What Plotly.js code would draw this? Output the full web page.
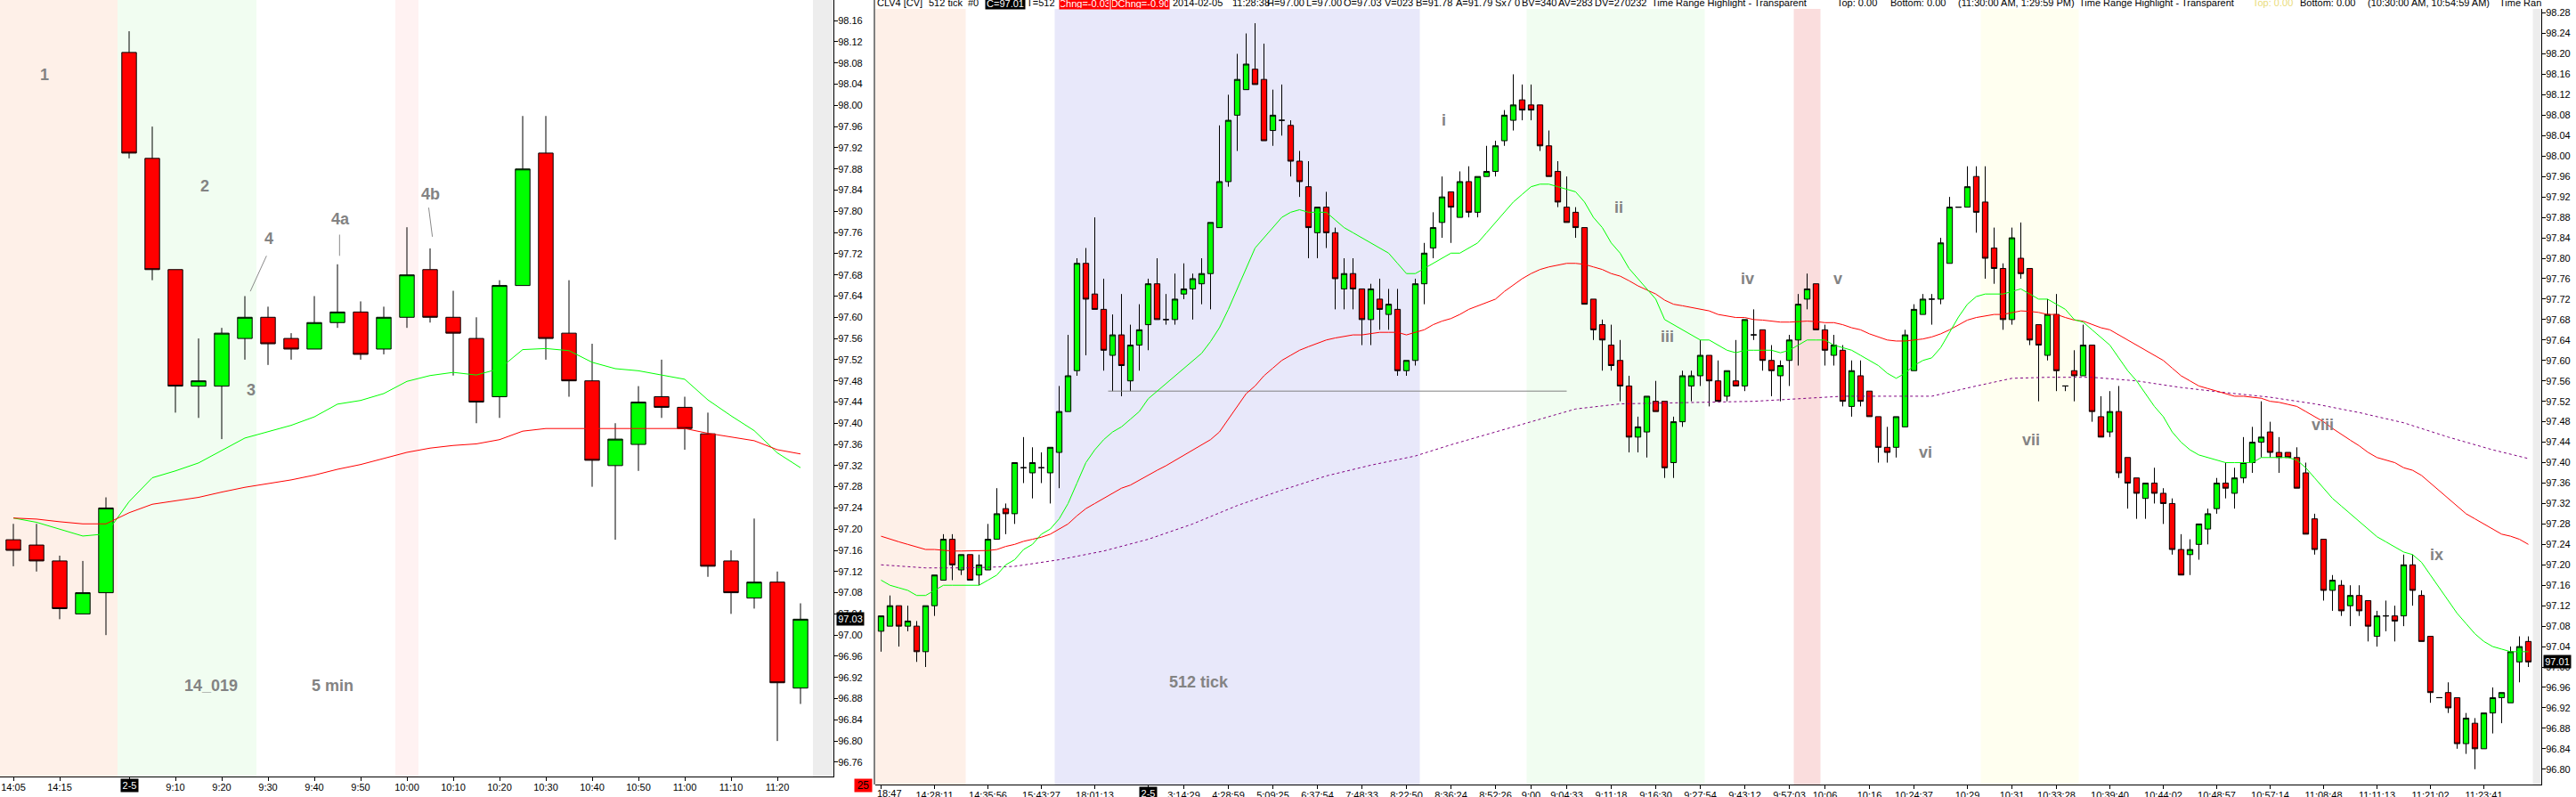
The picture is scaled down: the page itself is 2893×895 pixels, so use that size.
<!DOCTYPE html>
<html><head><meta charset="utf-8">
<script src="https://cdn.plot.ly/plotly-3.0.1.min.js"></script>
<style>html,body{margin:0;padding:0;background:#fff;overflow:hidden}#chart{width:2893px;height:895px}</style>
</head><body><div id="chart"></div>
<script>
// ---------------- LEFT PANEL: 5 min bars ----------------
const leftTickIndex  = [0, 2, 5, 7, 9, 11, 13, 15, 17, 19, 21, 23, 25, 27, 29, 31, 33];
const leftTickLabels = ["14:05","14:15","2-5","9:10","9:20","9:30","9:40","9:50","10:00","10:10","10:20","10:30","10:40","10:50","11:00","11:10","11:20"];
const leftOpen  = [97.18,97.17,97.14,97.04,97.08,98.10,97.90,97.69,97.47,97.47,97.56,97.60,97.56,97.54,97.59,97.61,97.54,97.60,97.69,97.60,97.56,97.45,97.66,97.91,97.57,97.48,97.32,97.36,97.45,97.43,97.38,97.14,97.07,97.10,96.90];
const leftHigh  = [97.21,97.21,97.15,97.14,97.26,98.14,97.96,97.69,97.56,97.58,97.64,97.62,97.57,97.64,97.70,97.63,97.62,97.77,97.73,97.65,97.60,97.67,97.98,97.98,97.67,97.55,97.40,97.47,97.52,97.45,97.42,97.16,97.22,97.12,97.06];
const leftLow   = [97.13,97.12,97.03,97.04,97.00,97.90,97.67,97.42,97.41,97.37,97.52,97.51,97.52,97.54,97.58,97.52,97.53,97.58,97.59,97.49,97.40,97.41,97.66,97.52,97.45,97.28,97.18,97.31,97.41,97.35,97.11,97.04,97.05,96.80,96.87];
const leftClose = [97.16,97.14,97.05,97.08,97.24,97.91,97.69,97.47,97.48,97.57,97.60,97.55,97.54,97.59,97.61,97.53,97.60,97.68,97.60,97.57,97.44,97.66,97.88,97.56,97.48,97.33,97.37,97.44,97.43,97.39,97.13,97.08,97.10,96.91,97.03];
const leftEmaFast = [97.221,97.213,97.200,97.187,97.191,97.252,97.297,97.310,97.325,97.348,97.372,97.384,97.396,97.412,97.436,97.443,97.456,97.479,97.490,97.496,97.491,97.503,97.539,97.541,97.537,97.515,97.503,97.499,97.491,97.483,97.444,97.414,97.386,97.344,97.316];
const leftEmaSlow = [97.221,97.219,97.214,97.210,97.210,97.231,97.247,97.254,97.260,97.270,97.279,97.286,97.293,97.302,97.313,97.322,97.333,97.345,97.353,97.358,97.361,97.369,97.385,97.390,97.390,97.390,97.390,97.390,97.390,97.390,97.381,97.374,97.367,97.350,97.342];

// ---------------- RIGHT PANEL: 512 tick bars ----------------
const rightTickIndex  = [0,6,12,18,24,30,34,39,44,49,54,59,64,69,73,77,82,87,92,97,102,106,111,116,122,127,132,138,144,150,156,162,168,174,180];
const rightTickLabels = ["18:47","14:28:11","14:35:56","15:43:27","18:01:13","2-5","3:14:29","4:28:59","5:09:25","6:37:54","7:48:33","8:22:50","8:36:24","8:52:26","9:00","9:04:33","9:11:18","9:16:30","9:27:54","9:43:12","9:57:03","10:06","10:16","10:24:37","10:29","10:31","10:33:28","10:39:40","10:44:02","10:48:57","10:57:14","11:08:48","11:11:13","11:21:02","11:23:41"];
const rightOpen = [
97.07,97.08,97.12,97.08,97.08,97.03,97.12,97.17,97.25,97.19,
97.22,97.18,97.19,97.25,97.31,97.30,97.39,97.38,97.39,97.38,
97.42,97.50,97.58,97.79,97.73,97.70,97.61,97.65,97.56,97.63,
97.67,97.75,97.68,97.68,97.73,97.74,97.75,97.77,97.86,97.95,
98.08,98.13,98.17,98.15,98.05,98.07,98.06,97.99,97.94,97.85,
97.90,97.85,97.74,97.77,97.74,97.68,97.72,97.69,97.70,97.58,
97.60,97.75,97.82,97.87,97.93,97.88,97.95,97.89,97.96,97.97,
98.03,98.07,98.11,98.10,98.10,98.02,97.97,97.90,97.89,97.86,
97.72,97.67,97.63,97.60,97.55,97.45,97.46,97.52,97.52,97.40,
97.48,97.55,97.57,97.61,97.56,97.53,97.56,97.55,97.65,97.66,
97.60,97.57,97.60,97.64,97.72,97.75,97.66,97.61,97.62,97.51,
97.57,97.54,97.49,97.43,97.43,97.47,97.58,97.69,97.72,97.72,
97.79,97.90,97.90,97.96,97.91,97.82,97.78,97.68,97.80,97.78,
97.67,97.61,97.69,97.55,97.58,97.57,97.63,97.49,97.46,97.50,
97.41,97.37,97.33,97.36,97.34,97.32,97.23,97.22,97.24,97.27,
97.31,97.36,97.34,97.37,97.40,97.44,97.46,97.42,97.42,97.41,
97.38,97.29,97.25,97.15,97.16,97.12,97.14,97.13,97.06,97.10,
97.10,97.10,97.20,97.14,97.06,96.94,96.95,96.94,96.85,96.89,
96.84,96.91,96.94,96.93,97.01,97.05];
const rightHigh = [
97.10,97.14,97.12,97.12,97.09,97.12,97.18,97.26,97.26,97.22,
97.22,97.22,97.28,97.35,97.32,97.40,97.45,97.43,97.42,97.43,
97.55,97.65,97.80,97.82,97.88,97.76,97.69,97.73,97.67,97.71,
97.76,97.80,97.73,97.77,97.79,97.77,97.80,97.87,98.06,98.12,
98.20,98.24,98.26,98.22,98.13,98.14,98.07,98.01,97.99,97.90,
97.93,97.86,97.80,97.80,97.74,97.75,97.76,97.74,97.74,97.60,
97.76,97.83,97.89,97.96,97.93,97.97,97.98,97.96,98.02,98.03,
98.09,98.16,98.14,98.14,98.10,98.05,97.99,97.96,97.90,97.86,
97.72,97.68,97.67,97.64,97.57,97.49,97.53,97.56,97.52,97.49,
97.58,97.58,97.64,97.61,97.60,97.58,97.64,97.68,97.70,97.66,
97.63,97.60,97.65,97.73,97.77,97.75,97.67,97.65,97.63,97.60,
97.60,97.54,97.49,97.47,97.49,97.66,97.71,97.73,97.73,97.84,
97.92,97.90,97.98,97.98,97.98,97.86,97.79,97.86,97.87,97.78,
97.67,97.72,97.73,97.55,97.62,97.67,97.63,97.53,97.54,97.55,
97.41,97.37,97.36,97.39,97.35,97.33,97.26,97.25,97.28,97.31,
97.37,97.40,97.39,97.45,97.47,97.52,97.48,97.45,97.42,97.43,
97.40,97.30,97.25,97.18,97.17,97.16,97.16,97.13,97.11,97.13,
97.12,97.22,97.22,97.15,97.06,96.94,96.97,96.94,96.91,96.90,
96.91,96.96,96.95,97.04,97.06,97.06];
const rightLow = [
97.03,97.08,97.04,97.07,97.01,97.00,97.10,97.17,97.17,97.18,
97.17,97.16,97.19,97.25,97.26,97.28,97.36,97.33,97.36,97.32,
97.35,97.50,97.57,97.61,97.70,97.58,97.54,97.53,97.54,97.58,
97.62,97.68,97.67,97.67,97.72,97.68,97.71,97.70,97.86,97.94,
98.01,98.13,98.14,98.03,98.02,98.04,97.96,97.92,97.80,97.80,
97.82,97.70,97.70,97.70,97.63,97.63,97.66,97.66,97.57,97.57,
97.59,97.71,97.80,97.84,97.83,97.88,97.88,97.88,97.96,97.96,
98.02,98.05,98.07,98.07,98.01,97.96,97.90,97.87,97.84,97.71,
97.64,97.58,97.58,97.52,97.42,97.42,97.41,97.50,97.37,97.37,
97.47,97.52,97.55,97.51,97.52,97.52,97.55,97.54,97.64,97.58,
97.53,97.52,97.55,97.59,97.70,97.66,97.59,97.59,97.51,97.49,
97.51,97.49,97.40,97.40,97.41,97.47,97.58,97.69,97.67,97.71,
97.79,97.90,97.90,97.85,97.76,97.75,97.66,97.67,97.76,97.63,
97.52,97.60,97.54,97.54,97.52,97.57,97.48,97.45,97.45,97.37,
97.31,97.29,97.29,97.32,97.28,97.22,97.18,97.18,97.21,97.24,
97.30,97.33,97.31,97.36,97.38,97.41,97.41,97.38,97.41,97.35,
97.26,97.22,97.13,97.11,97.10,97.08,97.10,97.05,97.04,97.07,
97.05,97.08,97.12,97.05,96.93,96.94,96.91,96.84,96.83,96.80,
96.84,96.87,96.89,96.93,96.97,97.00];
const rightClose = [
97.10,97.12,97.08,97.09,97.03,97.12,97.18,97.25,97.20,97.22,
97.17,97.20,97.25,97.30,97.30,97.40,97.39,97.40,97.39,97.43,
97.50,97.57,97.79,97.72,97.70,97.62,97.65,97.59,97.63,97.66,
97.75,97.68,97.68,97.72,97.74,97.76,97.77,97.87,97.95,98.07,
98.15,98.18,98.14,98.03,98.08,98.07,97.99,97.95,97.86,97.90,
97.85,97.76,97.77,97.74,97.68,97.74,97.70,97.71,97.58,97.60,
97.75,97.81,97.86,97.92,97.90,97.95,97.89,97.96,97.97,98.02,
98.08,98.10,98.09,98.09,98.02,97.96,97.91,97.87,97.86,97.71,
97.66,97.64,97.59,97.55,97.45,97.47,97.53,97.50,97.39,97.48,
97.57,97.57,97.61,97.56,97.52,97.58,97.55,97.68,97.65,97.60,
97.58,97.59,97.64,97.71,97.74,97.66,97.62,97.63,97.52,97.58,
97.52,97.49,97.43,97.42,97.49,97.65,97.70,97.72,97.72,97.83,
97.90,97.90,97.94,97.89,97.80,97.78,97.68,97.84,97.77,97.64,
97.63,97.69,97.58,97.55,97.57,97.63,97.50,97.45,97.50,97.38,
97.36,97.34,97.36,97.34,97.32,97.23,97.18,97.23,97.28,97.30,
97.36,97.35,97.37,97.40,97.44,97.45,97.42,97.41,97.41,97.35,
97.26,97.23,97.15,97.17,97.11,97.14,97.11,97.08,97.10,97.10,
97.09,97.20,97.15,97.05,96.95,96.94,96.92,96.85,96.90,96.84,
96.91,96.94,96.95,97.03,97.04,97.01];
const rightEmaFast = [
97.17,97.16,97.155,97.15,97.14,97.14,97.15,97.16,97.16,97.16,
97.16,97.16,97.17,97.18,97.20,97.21,97.23,97.24,97.26,97.27,
97.29,97.32,97.36,97.40,97.425,97.445,97.46,97.47,97.485,97.50,
97.525,97.54,97.555,97.57,97.585,97.60,97.614,97.637,97.664,97.70,
97.74,97.78,97.82,97.84,97.86,97.88,97.89,97.895,97.89,97.89,
97.89,97.875,97.86,97.85,97.84,97.83,97.82,97.81,97.79,97.77,
97.77,97.78,97.79,97.80,97.81,97.81,97.82,97.83,97.85,97.87,
97.89,97.91,97.925,97.94,97.945,97.945,97.94,97.935,97.93,97.91,
97.88,97.86,97.83,97.81,97.78,97.76,97.74,97.72,97.68,97.67,
97.66,97.65,97.64,97.64,97.63,97.62,97.615,97.62,97.62,97.62,
97.62,97.615,97.62,97.63,97.64,97.64,97.64,97.63,97.625,97.62,
97.61,97.60,97.59,97.575,97.565,97.575,97.59,97.60,97.605,97.625,
97.655,97.685,97.71,97.725,97.73,97.73,97.73,97.735,97.74,97.73,
97.72,97.72,97.71,97.70,97.68,97.675,97.66,97.645,97.63,97.605,
97.58,97.56,97.535,97.51,97.49,97.46,97.44,97.425,97.415,97.41,
97.405,97.40,97.40,97.40,97.40,97.41,97.41,97.41,97.41,97.405,
97.39,97.37,97.35,97.33,97.315,97.30,97.285,97.27,97.255,97.245,
97.235,97.225,97.22,97.205,97.18,97.155,97.13,97.105,97.085,97.065,
97.05,97.04,97.035,97.03,97.03,97.03];
const rightEmaSlow = [
97.256,97.25,97.245,97.24,97.235,97.23,97.23,97.228,97.227,97.227,
97.227,97.227,97.228,97.23,97.236,97.24,97.246,97.25,97.254,97.26,
97.27,97.28,97.296,97.31,97.32,97.33,97.34,97.35,97.356,97.366,
97.376,97.385,97.394,97.404,97.414,97.424,97.434,97.445,97.46,97.485,
97.51,97.535,97.55,97.57,97.585,97.60,97.61,97.62,97.627,97.634,
97.64,97.644,97.647,97.65,97.65,97.652,97.655,97.655,97.655,97.65,
97.655,97.66,97.67,97.677,97.682,97.69,97.70,97.707,97.714,97.72,
97.735,97.748,97.76,97.77,97.778,97.783,97.787,97.79,97.79,97.788,
97.783,97.778,97.77,97.765,97.756,97.746,97.738,97.73,97.718,97.71,
97.707,97.704,97.70,97.697,97.69,97.687,97.684,97.684,97.68,97.679,
97.677,97.675,97.675,97.676,97.677,97.676,97.674,97.674,97.67,97.664,
97.66,97.652,97.646,97.64,97.638,97.638,97.64,97.642,97.646,97.652,
97.66,97.67,97.679,97.684,97.687,97.69,97.69,97.694,97.697,97.696,
97.694,97.69,97.69,97.684,97.679,97.677,97.67,97.664,97.66,97.65,
97.64,97.63,97.62,97.61,97.60,97.585,97.57,97.56,97.55,97.545,
97.54,97.535,97.53,97.53,97.528,97.526,97.52,97.518,97.514,97.51,
97.50,97.49,97.48,97.467,97.455,97.444,97.433,97.42,97.41,97.405,
97.40,97.39,97.385,97.375,97.36,97.345,97.33,97.315,97.30,97.29,
97.28,97.27,97.26,97.256,97.25,97.24];
const rightSmaIdx  = [0,5,10,15,20,25,30,35,40,45,50,55,60,64,68,73,78,83,88,93,98,103,108,113,118,123,127,131,136,141,146,151,156,161,166,171,176,181,185];
const rightSmaVals = [97.20,97.194,97.194,97.197,97.21,97.227,97.25,97.28,97.316,97.346,97.374,97.395,97.413,97.435,97.455,97.48,97.505,97.515,97.517,97.518,97.52,97.525,97.53,97.53,97.53,97.55,97.565,97.567,97.567,97.56,97.547,97.537,97.528,97.515,97.498,97.478,97.45,97.425,97.408];
const supportLineIdx   = [25.5, 77];
const supportLinePrice = [97.54, 97.54];

// ---------------- drawing ----------------
const W = 2893, H = 895;
const px = v => v / W, py = v => 1 - v / H;
const FONT = 'Liberation Sans, Arial, sans-serif';
const GRAYTXT = '#838383';
const idx = arr => arr.map((_, i) => i);

const candleStyle = {
  increasing: {line: {color: '#000', width: 1}, fillcolor: '#00ff00'},
  decreasing: {line: {color: '#000', width: 1}, fillcolor: '#ff0000'},
  whiskerwidth: 0, hoverinfo: 'none', showlegend: false
};

const traces = [
  Object.assign({type: 'candlestick', x: idx(leftOpen), open: leftOpen, high: leftHigh, low: leftLow, close: leftClose, xaxis: 'x', yaxis: 'y'}, candleStyle),
  {type: 'scatter', mode: 'lines', x: idx(leftEmaFast), y: leftEmaFast, xaxis: 'x', yaxis: 'y', line: {color: '#00ff00', width: 1}, hoverinfo: 'none', showlegend: false},
  {type: 'scatter', mode: 'lines', x: idx(leftEmaSlow), y: leftEmaSlow, xaxis: 'x', yaxis: 'y', line: {color: '#ff0000', width: 1}, hoverinfo: 'none', showlegend: false},
  Object.assign({type: 'candlestick', x: idx(rightOpen), open: rightOpen, high: rightHigh, low: rightLow, close: rightClose, xaxis: 'x2', yaxis: 'y2'}, candleStyle),
  {type: 'scatter', mode: 'lines', x: supportLineIdx, y: supportLinePrice, xaxis: 'x2', yaxis: 'y2', line: {color: '#808080', width: 1}, hoverinfo: 'none', showlegend: false},
  {type: 'scatter', mode: 'lines', x: rightSmaIdx, y: rightSmaVals, xaxis: 'x2', yaxis: 'y2', line: {color: '#800080', width: 1, dash: 'dot'}, hoverinfo: 'none', showlegend: false},
  {type: 'scatter', mode: 'lines', x: idx(rightEmaSlow), y: rightEmaSlow, xaxis: 'x2', yaxis: 'y2', line: {color: '#ff0000', width: 1}, hoverinfo: 'none', showlegend: false},
  {type: 'scatter', mode: 'lines', x: idx(rightEmaFast), y: rightEmaFast, xaxis: 'x2', yaxis: 'y2', line: {color: '#00ff00', width: 1}, hoverinfo: 'none', showlegend: false}
];

const tickFont = {family: FONT, size: 11, color: '#000'};
const xCommon = {showgrid: false, zeroline: false, showline: true, linecolor: '#000', linewidth: 1,
  ticks: 'outside', ticklen: 4, tickcolor: '#000', tickfont: tickFont, tickmode: 'array', ticklabelstandoff: -2,
  rangeslider: {visible: false}, fixedrange: true, automargin: false, ticklabeloverflow: 'allow'};
const yCommon = {showgrid: false, zeroline: false, showline: true, linecolor: '#000', linewidth: 1,
  ticks: 'outside', ticklen: 4, tickcolor: '#000', tickfont: tickFont, side: 'right', ticklabelstandoff: -2,
  tickmode: 'linear', dtick: 0.04, tickformat: '.2f', fixedrange: true, automargin: false, ticklabeloverflow: 'allow'};

const rect = (xref, x0, x1, color) => ({type: 'rect', xref: xref, yref: (xref === 'x' ? 'y' : 'y2') + ' domain',
  x0: x0, x1: x1, y0: 0, y1: 1, fillcolor: color, line: {width: 0}, layer: 'below'});
const seg = (x0, y0, x1, y1) => ({type: 'line', xref: 'x', yref: 'y', x0: x0, y0: y0, x1: x1, y1: y1, line: {color: '#8a8a8a', width: 1}});

const shapes = [
  rect('x', -0.6, 4.5, '#fef0e8'),
  rect('x', 4.5, 10.5, '#f1fdf1'),
  rect('x', 16.5, 17.5, '#fff2f2'),
  rect('x', 34.54, 35.43, '#ededed'),
  rect('x2', -0.7, 9.5, '#fef0e8'),
  rect('x2', 19.5, 60.5, '#e8e8fa'),
  rect('x2', 72.5, 92.5, '#f1fdf1'),
  rect('x2', 102.5, 105.5, '#fadddd'),
  rect('x2', 123.5, 134.5, '#fffff0'),
  rect('x2', 185.5, 186.5, '#ededed'),
  seg(10.935, 97.716, 10.235, 97.649),
  seg(14.09, 97.756, 14.09, 97.716),
  seg(17.94, 97.807, 18.10, 97.752),
  {type: 'line', xref: 'paper', yref: 'paper', x0: px(982), x1: px(982), y0: py(881), y1: 1, line: {color: '#000', width: 1}}
];

const lbl = (text, x, y, xr, yr) => ({text: text, x: x, y: y, xref: xr, yref: yr, showarrow: false,
  xanchor: 'center', yanchor: 'middle', font: {family: FONT, size: 18, color: GRAYTXT, weight: 'bold'}});
const hdrFont = {family: FONT, size: 11, color: '#000'};
const hdr = (x, text, extra) => Object.assign({text: text, x: px(x), y: py(3.5), xref: 'paper', yref: 'paper',
  xanchor: 'left', yanchor: 'middle', showarrow: false, font: hdrFont, borderpad: 0}, extra || {});
const box = (w, h, bg, fc) => ({width: w, height: h, bgcolor: bg, borderpad: 1, font: {family: FONT, size: 11, color: fc}});
const boxFont = c => ({family: FONT, size: 11, color: c});

const leftDateIdx = leftTickIndex[leftTickLabels.indexOf('2-5')];
const rightDateIdx = rightTickIndex[rightTickLabels.indexOf('2-5')];

// header tokens: [left edge in px, text]
const headerTokens = [
  [984, 'CLV4 [CV]'], [1042, '512 tick'], [1086, '#0'], [1152, 'T=512'],
  [1316, '2014-02-05'], [1383, '11:28:38'], [1422, 'H=97.00'], [1466, 'L=97.00'], [1508, 'O=97.03'],
  [1554, 'V=023'], [1589, 'B=91.78'], [1634, 'A=91.79'], [1678, 'Sx7 0'], [1708, 'BV=340'], [1749, 'AV=283'],
  [1790, 'DV=270232'], [1854, 'Time Range Highlight - Transparent'], [2062, 'Top: 0.00'], [2122, 'Bottom: 0.00'],
  [2198, '(11:30:00 AM, 1:29:59 PM)'], [2334, 'Time Range Highlight - Transparent'],
  [2582, 'Bottom: 0.00'], [2658, '(10:30:00 AM, 10:54:59 AM)'], [2806, 'Time Ran']
];

const annotations = [
  lbl('1', 1.35, 98.057, 'x', 'y'),
  lbl('2', 8.26, 97.847, 'x', 'y'),
  lbl('4', 11.03, 97.748, 'x', 'y'),
  lbl('3', 10.25, 97.463, 'x', 'y'),
  lbl('4a', 14.15, 97.785, 'x', 'y'),
  lbl('4b', 18.0, 97.832, 'x', 'y'),
  lbl('14_019', 8.52, 96.905, 'x', 'y'),
  lbl('5 min', 13.78, 96.905, 'x', 'y'),
  lbl('i', 63.15, 98.07, 'x2', 'y2'),
  lbl('ii', 82.85, 97.90, 'x2', 'y2'),
  lbl('iii', 88.25, 97.647, 'x2', 'y2'),
  lbl('iv', 97.25, 97.76, 'x2', 'y2'),
  lbl('v', 107.45, 97.76, 'x2', 'y2'),
  lbl('vi', 117.25, 97.42, 'x2', 'y2'),
  lbl('vii', 129.15, 97.445, 'x2', 'y2'),
  lbl('viii', 161.85, 97.474, 'x2', 'y2'),
  lbl('ix', 174.65, 97.22, 'x2', 'y2'),
  lbl('512 tick', 35.65, 96.97, 'x2', 'y2'),
  // date boxes on time axes
  Object.assign({text: '2-5', x: leftDateIdx, xref: 'x', y: py(882), yref: 'paper', showarrow: false, xanchor: 'center', yanchor: 'middle'}, box(17, 12, '#000', '#fff')),
  Object.assign({text: '2-5', x: rightDateIdx, xref: 'x2', y: py(891), yref: 'paper', showarrow: false, xanchor: 'center', yanchor: 'middle'}, box(17, 12, '#000', '#fff')),
  // first time label of the tick chart, kept inside the panel
  {text: rightTickLabels[0], x: px(983), xref: 'paper', y: py(891), yref: 'paper', showarrow: false, xanchor: 'left', yanchor: 'middle', font: tickFont},
  // last price boxes
  Object.assign({text: '97.03', x: px(939), xref: 'paper', y: 97.03, yref: 'y', showarrow: false, xanchor: 'left', yanchor: 'middle'}, box(28, 12, '#000', '#fff')),
  Object.assign({text: '97.01', x: px(2856), xref: 'paper', y: 97.01, yref: 'y2', showarrow: false, xanchor: 'left', yanchor: 'middle'}, box(28, 12, '#000', '#fff')),
  Object.assign({text: '25', x: px(959), xref: 'paper', y: py(882), yref: 'paper', showarrow: false, xanchor: 'left', yanchor: 'middle'},
    {width: 17, height: 12, bgcolor: '#ff0000', borderpad: 1, font: {family: FONT, size: 12, color: '#000'}}),
  // header line boxes
  hdr(1106, 'C=97.01', {width: 42, height: 11, bgcolor: '#000', borderpad: 1, font: boxFont('#fff')}),
  hdr(1189, 'Chng=-0.03', {width: 54, height: 11, bgcolor: '#ff0000', borderpad: 1, font: boxFont('#fff')}),
  hdr(1247, 'DChng=-0.90', {width: 63, height: 11, bgcolor: '#ff0000', borderpad: 1, font: boxFont('#fff')}),
  hdr(2529, 'Top: 0.00', {font: boxFont('#eadc7a')})
].concat(headerTokens.map(t => hdr(t[0], t[1])));

const layout = {
  width: W, height: H, margin: {l: 0, r: 0, t: 0, b: 0, pad: 0},
  paper_bgcolor: '#fff', plot_bgcolor: '#fff', showlegend: false, hovermode: false, dragmode: false,
  boxgap: 0.37, boxgroupgap: 0, font: {family: FONT, size: 11, color: '#000'},
  xaxis: Object.assign({}, xCommon, {domain: [0, px(936)], range: [-0.577, 35.423], anchor: 'y',
    tickvals: leftTickIndex, ticktext: leftTickLabels.map(t => t === '2-5' ? '' : t)}),
  yaxis: Object.assign({}, yCommon, {domain: [py(872), 1], range: [96.733, 98.199], anchor: 'x', tick0: 96.76}),
  xaxis2: Object.assign({}, xCommon, {domain: [px(983), px(2854)], range: [-0.65, 186.45], anchor: 'y2',
    tickvals: rightTickIndex, ticktext: rightTickLabels.map((t, i) => (t === '2-5' || i === 0) ? '' : t)}),
  yaxis2: Object.assign({}, yCommon, {domain: [py(881), py(10)], range: [96.77, 98.288], anchor: 'x2', tick0: 96.80}),
  shapes: shapes, annotations: annotations
};

Plotly.newPlot('chart', traces, layout, {staticPlot: true, displayModeBar: false});
</script></body></html>
